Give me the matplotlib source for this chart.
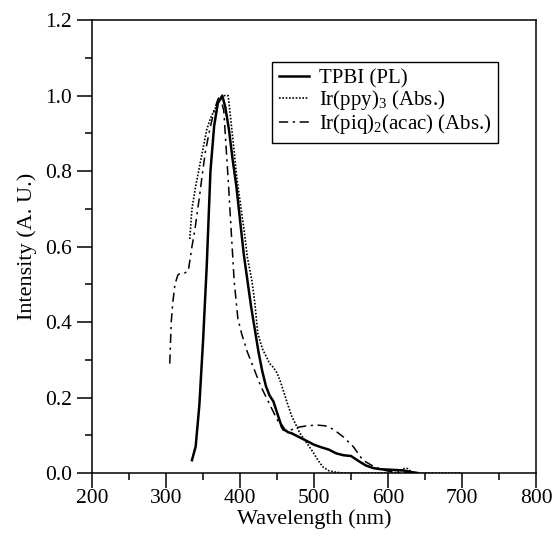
import matplotlib
matplotlib.use("Agg")
import matplotlib.pyplot as plt
from matplotlib.ticker import MultipleLocator

plt.rcParams["font.family"] = ["Liberation Serif", "DejaVu Serif"]
plt.rcParams["mathtext.fontset"] = "custom"
plt.rcParams["mathtext.rm"] = "Liberation Serif"

# TPBI photoluminescence
tpbi_wl = [335, 340, 345, 350, 355, 360, 365, 370, 376, 380, 385, 390, 395, 400,
           405, 410, 415, 420, 425, 430, 435, 440, 445, 450, 455, 460, 465, 470,
           475, 480, 490, 500, 510, 520, 530, 540, 550, 560, 570, 580, 590, 600,
           610, 620, 630, 640]
tpbi_int = [0.034, 0.07, 0.18, 0.35, 0.55, 0.80, 0.92, 0.98, 1.0, 0.97, 0.91, 0.83,
            0.76, 0.67, 0.58, 0.51, 0.44, 0.38, 0.32, 0.27, 0.23, 0.205, 0.19, 0.16,
            0.13, 0.115, 0.108, 0.105, 0.10, 0.095, 0.085, 0.075, 0.068, 0.062,
            0.052, 0.047, 0.045, 0.032, 0.02, 0.013, 0.01, 0.009, 0.008, 0.007,
            0.003, 0.0]

# Ir(ppy)3 absorption
ppy_wl = [332, 335, 340, 346, 350, 355, 360, 365, 370, 376, 384, 390, 396, 400,
          405, 410, 416, 420, 424, 430, 440, 445, 450, 455, 463, 470, 481, 490,
          497, 505, 512, 520, 530, 540, 600, 615, 622, 626, 632, 640, 700]
ppy_int = [0.62, 0.70, 0.76, 0.82, 0.86, 0.91, 0.94, 0.96, 0.98, 1.0, 1.0, 0.89,
           0.776, 0.72, 0.65, 0.57, 0.51, 0.45, 0.37, 0.33, 0.29, 0.28, 0.265,
           0.24, 0.19, 0.15, 0.105, 0.08, 0.06, 0.035, 0.016, 0.006, 0.002, 0.0,
           0.0, 0.002, 0.012, 0.012, 0.002, 0.0, 0.0]

# Ir(piq)2(acac) absorption
piq_wl = [305, 307, 309, 312, 316, 320, 325, 330, 335, 339, 345, 348, 353, 359,
          365, 370, 373, 378, 384, 392, 397, 402, 410, 418, 428, 438, 448, 458,
          465, 475, 490, 504, 515, 522, 530, 540, 553, 566, 580, 590, 600, 615, 630]
piq_int = [0.29, 0.40, 0.45, 0.50, 0.525, 0.53, 0.53, 0.535, 0.60, 0.645, 0.73,
           0.776, 0.85, 0.91, 0.96, 0.99, 1.0, 0.96, 0.776, 0.51, 0.41, 0.37, 0.32,
           0.28, 0.23, 0.19, 0.15, 0.114, 0.11, 0.12, 0.125, 0.127, 0.125, 0.12,
           0.11, 0.095, 0.07, 0.034, 0.018, 0.01, 0.005, 0.002, 0.0]

fig = plt.figure(figsize=(5.58, 5.44), dpi=100)
ax = fig.add_axes([0.165, 0.1305, 0.7956, 0.8325])

ax.plot(tpbi_wl, tpbi_int, color="black", lw=1.8, label="TPBI (PL)")
ax.plot(ppy_wl, ppy_int, color="black", lw=1.2, linestyle=(0, (1, 1)),
        label=r"Ir(ppy)$_3$ (Abs.)")
ax.plot(piq_wl, piq_int, color="black", lw=1.1, linestyle=(0, (6, 3, 1.5, 3)),
        label=r"Ir(piq)$_2$(acac) (Abs.)")

ax.set_xlim(200, 800)
ax.set_ylim(0, 1.2)
ax.xaxis.set_major_locator(MultipleLocator(100))
ax.xaxis.set_minor_locator(MultipleLocator(50))
ax.yaxis.set_major_locator(MultipleLocator(0.2))
ax.yaxis.set_minor_locator(MultipleLocator(0.1))
ax.yaxis.set_major_formatter(matplotlib.ticker.FormatStrFormatter("%.1f"))

ax.tick_params(which="major", direction="out", length=10.5, width=1.1,
               labelsize=15.5, top=False, right=False)
ax.tick_params(which="minor", direction="out", length=5, width=1.1,
               top=False, right=False)
ax.tick_params(axis="x", pad=1)
ax.tick_params(axis="y", pad=4)
for sp in ax.spines.values():
    sp.set_linewidth(1.1)

ax.set_xlabel("Wavelength (nm)", fontsize=16, labelpad=1)
ax.set_ylabel("Intensity (A. U.)", fontsize=16, labelpad=6)

leg = ax.legend(loc="upper left", bbox_to_anchor=(0.405, 0.907), fontsize=15,
                frameon=True, fancybox=False, edgecolor="black", framealpha=1,
                handlelength=1.45, borderpad=0.32, labelspacing=0.0,
                handletextpad=0.5, borderaxespad=0)
leg.get_frame().set_linewidth(1.0)

fig.savefig("out.png", dpi=100)
